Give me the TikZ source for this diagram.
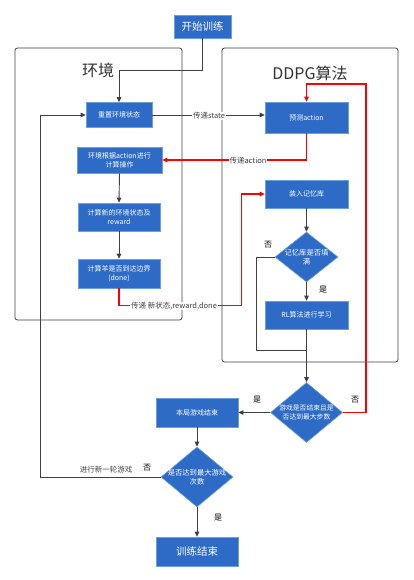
\documentclass[tikz,border=0pt]{standalone}
\usepackage{fontspec}
\setmainfont{Noto Sans CJK SC}
\usetikzlibrary{arrows.meta,shapes.geometric,calc}
\definecolor{boxblue}{HTML}{2E6BC6}
\definecolor{boxline}{HTML}{6A9FDD}
\definecolor{lineg}{HTML}{404040}
\definecolor{labg}{HTML}{404040}
\definecolor{titleg}{HTML}{333333}
\begin{document}
\begin{tikzpicture}[x=1pt,y=-1pt,
  box/.style={draw=boxline, fill=boxblue, text=white, font=\fontsize{7}{8.8}\selectfont, align=center, inner sep=0pt, line width=0.6pt},
  dia/.style={draw=boxline, fill=boxblue, diamond, inner sep=0pt, line width=0.6pt},
  dtext/.style={text=white, font=\fontsize{6.8}{8.5}\selectfont, align=center, inner sep=0pt},
  arr/.style={draw=lineg, line width=0.9pt, -{Triangle[length=5pt,width=4.5pt]}},
  ln/.style={draw=lineg, line width=0.9pt},
  rarr/.style={draw=red, line width=1.1pt, -{Triangle[length=5pt,width=4.5pt]}},
  rln/.style={draw=red, line width=1.1pt},
  lbl/.style={fill=white, inner sep=0.6pt, text=labg, font=\fontsize{7.5}{9}\selectfont},
  yn/.style={text=black, font=\fontsize{8}{9}\selectfont, inner sep=0pt},
  cont/.style={draw=lineg, line width=0.8pt, rounded corners=2.5pt, inner sep=0pt},
  ttl/.style={text=titleg, font=\fontsize{16}{18}\selectfont, inner sep=0pt}
]
\useasboundingbox (0,0) rectangle (413,580);

% containers
\node (envc) [cont, minimum width=167pt, minimum height=272pt] at (98.5,184) {};
\node (ddpgc) [cont, minimum width=176pt, minimum height=314pt] at (310,205) {};
\node (envt) [ttl] at (98,70) {环境};
\node (ddpgt) [ttl] at (310,73) {DDPG算法};

% boxes
\node (start) [box, font=\fontsize{10.5}{12}\selectfont, minimum width=57pt, minimum height=23pt] at (202.5,26.5) {开始训练};
\node (reset) [box, minimum width=66pt, minimum height=25pt] at (119,115) {重置环境状态};
\node (envact) [box, minimum width=85pt, minimum height=26pt] at (119.5,160) {环境根据action进行\\计算操作};
\node (newst) [box, minimum width=82pt, minimum height=28pt] at (119,217) {计算新的环境状态及\\reward};
\node (done) [box, minimum width=82pt, minimum height=29pt] at (119,273.5) {计算羊是否到达边界\\(done)};
\node (predict) [box, minimum width=83pt, minimum height=31pt] at (306.5,117.5) {预测action};
\node (mem) [box, minimum width=83pt, minimum height=28pt] at (306.5,194) {装入记忆库};
\node (d0) [dia, minimum width=63pt, minimum height=50pt] at (306.5,257) {};
\node (d0t) [dtext, font=\fontsize{7.3}{8.8}\selectfont] at (d0) {记忆库是否填\\满};
\node (rl) [box, minimum width=83pt, minimum height=28pt] at (306.5,315) {RL算法进行学习};
\node (d1) [dia, minimum width=72pt, minimum height=60pt] at (306.5,412.5) {};
\node (d1t) [dtext] at (d1) {游戏是否结束且是\\否达到最大步数};
\node (over) [box, minimum width=82pt, minimum height=29pt] at (197,412.5) {本局游戏结束};
\node (d2) [dia, minimum width=72pt, minimum height=60pt] at (197,477) {};
\node (d2t) [dtext, font=\fontsize{7.3}{8.8}\selectfont] at (d2) {是否达到最大游戏\\次数};
\node (fin) [box, font=\fontsize{10.5}{12}\selectfont, minimum width=82pt, minimum height=29pt] at (197,551.5) {训练结束};

% coordinates
\coordinate (k1) at (119,70);
\coordinate (k2) at (40.7,115);
\coordinate (k3) at (256.7,350.7);
\coordinate (r1) at (366,84);
\coordinate (r2) at (241.7,305.7);

% black connectors
\draw[arr] (start.south) |- (k1) -- (reset.north);
\draw[arr] (reset.east) -- (reset.east -| predict.west);
\draw[arr] (envact.south) -- (newst.north);
\draw[arr] (newst.south) -- (done.north);
\draw[arr] (mem.south) -- (d0.north);
\draw[arr] (d0.south) -- (rl.north);
\draw[ln] (d0.west) -| (k3) -- (k3 -| rl.south);
\draw[arr] (rl.south) -- (d1.north);
\draw[arr] (d1.west) -- (over.east);
\draw[arr] (over.south) -- (d2.north);
\draw[arr] (d2.south) -- (fin.north);
\draw[arr] (d2.west) -| (k2) -- (reset.west);

% red connectors
\draw[rarr] (predict.south) |- (envact.east);
\draw[rarr] (d1.east) -| (r1) -| (predict.north);
\draw[rarr] (done.south) |- (r2) |- (mem.west);

% labels
\node (l1) [lbl] at (209,116) {传递state};
\node (l2) [lbl] at (248,161) {传递action};
\node (l3) [lbl] at (174,306) {传递 新状态,reward,done};
\node (l4) [lbl, fill=none] at (106,470) {进行新一轮游戏};
\node (y0) [yn] at (268,245) {否};
\node (y1) [yn] at (323,290) {是};
\node (y2) [yn] at (257,400) {是};
\node (y3) [yn] at (355,400) {否};
\node (y4) [yn] at (147,468) {否};
\node (y5) [yn] at (218,518) {是};
\end{tikzpicture}
\end{document}
